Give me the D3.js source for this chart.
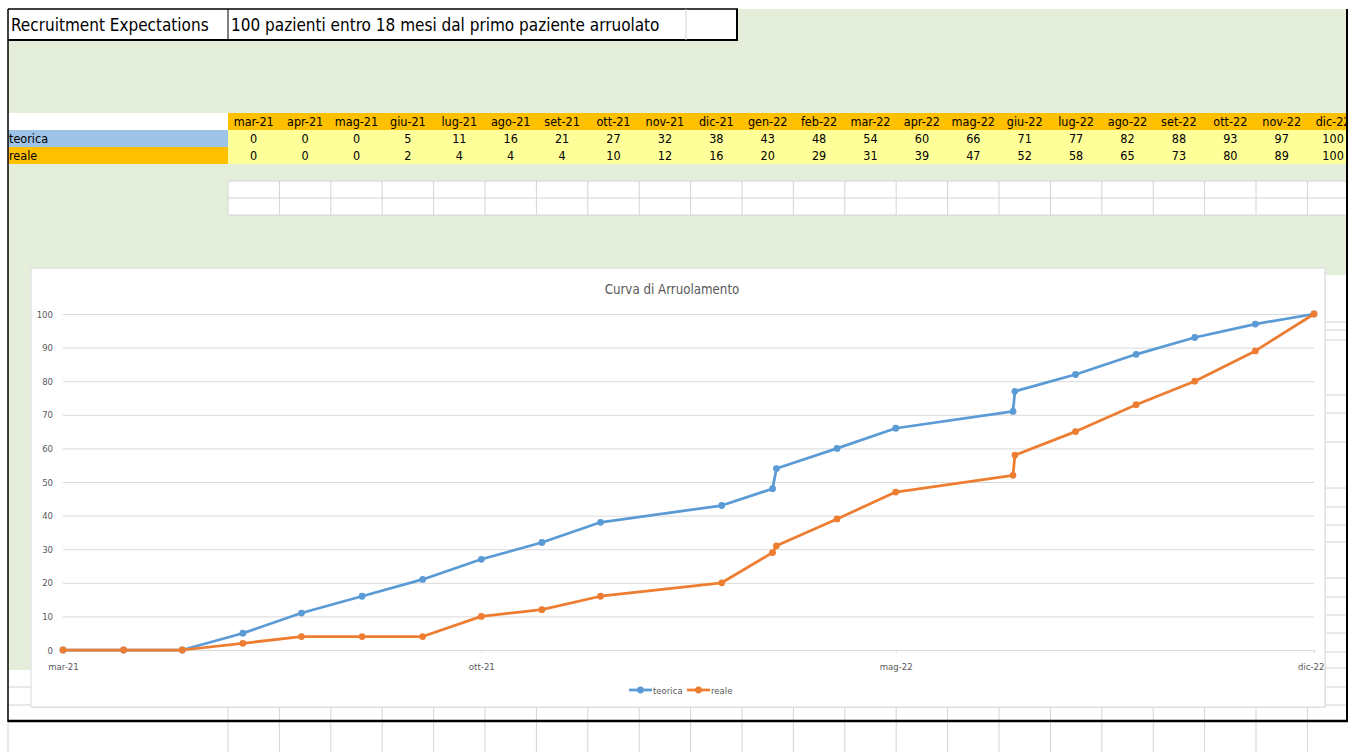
<!DOCTYPE html>
<html>
<head>
<meta charset="utf-8">
<script src="https://cdn.jsdelivr.net/npm/d3@7"></script>
<style>
  body { margin: 0; background: #fff; }
  svg { display: block; font-family: "Liberation Sans Narrow", "DejaVu Sans Condensed", "Open Sans", sans-serif; }
</style>
</head>
<body>
<div class="canvas"></div>
<script>
// data
const months = ['mar-21','apr-21','mag-21','giu-21','lug-21','ago-21','set-21','ott-21','nov-21','dic-21',
  'gen-22','feb-22','mar-22','apr-22','mag-22','giu-22','lug-22','ago-22','set-22','ott-22','nov-22','dic-22'];
// the chart uses the real cell dates (a few are not month starts)
const dates = ['2021-03-01','2021-04-01','2021-05-01','2021-06-01','2021-07-01','2021-08-01','2021-09-01',
  '2021-10-01','2021-11-01','2021-12-01','2022-02-01','2022-02-27','2022-03-01','2022-04-01','2022-05-01',
  '2022-06-30','2022-07-01','2022-08-01','2022-09-01','2022-10-01','2022-11-01','2022-12-01'];
const teorica = [0,0,0,5,11,16,21,27,32,38,43,48,54,60,66,71,77,82,88,93,97,100];
const reale   = [0,0,0,2,4,4,4,10,12,16,20,29,31,39,47,52,58,65,73,80,89,100];
const seriesNames = ['teorica', 'reale'];
const colors = { teorica: '#5b9bd5', reale: '#ed7d31' };

const W = 1357, H = 752;
const parse = d3.timeParse('%Y-%m-%d');
const monthFmt = d => months[d.getMonth() + (d.getFullYear() - 2021) * 12 - 2];

const svg = d3.select('.canvas').append('svg')
  .attr('width', W).attr('height', H);

// ---------- spreadsheet background ----------
const sheet = svg.append('g');
const colX = d3.scaleBand().domain(months).range([228, 228 + 22 * 51.4]);

// light cell grid under everything
const gridCol = '#d4d4d4';
colX.domain().forEach(m => {
  sheet.append('line').attr('x1', colX(m)).attr('x2', colX(m))
    .attr('y1', 700).attr('y2', H).attr('stroke', gridCol);
});
sheet.append('line').attr('x1', 8).attr('x2', 8).attr('y1', 700).attr('y2', H).attr('stroke', gridCol);

// green fill
sheet.append('rect').attr('x', 8).attr('y', 9).attr('width', 1339).attr('height', 661).attr('fill', '#e5eedb');
// white area right of the chart
sheet.append('rect').attr('x', 1320).attr('y', 275).attr('width', 27).attr('height', 447).attr('fill', '#fff');
[322,330,340,395,413,442,488,507,525,542,578,597,615,633,652,668,687,705].forEach(y => {
  sheet.append('line').attr('x1', 1320).attr('x2', 1347).attr('y1', y).attr('y2', y).attr('stroke', gridCol);
});
// white rows at bottom-left
sheet.append('rect').attr('x', 8).attr('y', 670).attr('width', 30).attr('height', 52).attr('fill', '#fff');
[687, 705].forEach(y => {
  sheet.append('line').attr('x1', 8).attr('x2', 40).attr('y1', y).attr('y2', y).attr('stroke', gridCol);
});

// empty white rows below the table
sheet.append('rect').attr('x', 228).attr('y', 181).attr('width', 1119).attr('height', 34).attr('fill', '#fff');
[181, 198, 215].forEach(y => {
  sheet.append('line').attr('x1', 228).attr('x2', 1347).attr('y1', y).attr('y2', y).attr('stroke', gridCol);
});
months.forEach(m => {
  sheet.append('line').attr('x1', colX(m)).attr('x2', colX(m)).attr('y1', 181).attr('y2', 215).attr('stroke', gridCol);
});

// header box
sheet.append('rect').attr('x', 8).attr('y', 0).attr('width', 730).attr('height', 40).attr('fill', '#fff');
sheet.append('rect').attr('x', 0).attr('y', 0).attr('width', W).attr('height', 9).attr('fill', '#fff');
sheet.append('line').attr('x1', 8).attr('x2', 738).attr('y1', 9).attr('y2', 9).attr('stroke', '#000').attr('stroke-width', 1.5);
sheet.append('line').attr('x1', 8).attr('x2', 738).attr('y1', 40).attr('y2', 40).attr('stroke', '#000').attr('stroke-width', 2);
sheet.append('line').attr('x1', 228).attr('x2', 228).attr('y1', 9).attr('y2', 40).attr('stroke', '#000');
sheet.append('line').attr('x1', 686).attr('x2', 686).attr('y1', 9).attr('y2', 40).attr('stroke', gridCol);
sheet.append('line').attr('x1', 737).attr('x2', 737).attr('y1', 9).attr('y2', 40).attr('stroke', '#000').attr('stroke-width', 2);
sheet.append('text').attr('x', 11).attr('y', 31).attr('font-size', 17).attr('fill', '#000')
  .text('Recruitment Expectations');
sheet.append('text').attr('x', 231).attr('y', 31).attr('font-size', 17).attr('fill', '#000')
  .text('100 pazienti entro 18 mesi dal primo paziente arruolato');

// data table
const rowY = { head: 113, teorica: 130, reale: 147 };
const rowH = 17;
sheet.append('rect').attr('x', 8).attr('y', rowY.head).attr('width', 220).attr('height', rowH).attr('fill', '#fff');
sheet.append('rect').attr('x', 228).attr('y', rowY.head).attr('width', 1119).attr('height', rowH).attr('fill', '#ffc000');
sheet.append('rect').attr('x', 228).attr('y', rowY.teorica).attr('width', 1119).attr('height', rowH * 2).attr('fill', '#ffff99');
sheet.append('rect').attr('x', 8).attr('y', rowY.teorica).attr('width', 220).attr('height', rowH).attr('fill', '#9dc3e6');
sheet.append('rect').attr('x', 8).attr('y', rowY.reale).attr('width', 220).attr('height', rowH).attr('fill', '#ffc000');
sheet.append('text').attr('x', 9).attr('y', rowY.teorica + 13).attr('font-size', 12.5).text('teorica');
sheet.append('text').attr('x', 9).attr('y', rowY.reale + 13).attr('font-size', 12.5).text('reale');

const table = sheet.append('g').attr('font-size', 12.5).attr('text-anchor', 'middle');
table.selectAll('text.h').data(months).join('text').attr('class', 'h')
  .attr('x', d => colX(d) + colX.bandwidth() / 2).attr('y', rowY.head + 13).text(d => d);
table.selectAll('text.t').data(teorica).join('text').attr('class', 't')
  .attr('x', (d, i) => colX(months[i]) + colX.bandwidth() / 2).attr('y', rowY.teorica + 13).text(d => d);
table.selectAll('text.r').data(reale).join('text').attr('class', 'r')
  .attr('x', (d, i) => colX(months[i]) + colX.bandwidth() / 2).attr('y', rowY.reale + 13).text(d => d);

// ---------- chart ----------
const box = { x: 31, y: 268, w: 1294, h: 439 };
svg.append('rect').attr('x', box.x + 1).attr('y', box.y + 1).attr('width', box.w).attr('height', box.h)
  .attr('fill', '#e8e8e8');
svg.append('rect').attr('x', box.x).attr('y', box.y).attr('width', box.w).attr('height', box.h)
  .attr('fill', '#fff').attr('stroke', '#d9d9d9');

const x = d3.scaleTime()
  .domain([parse(dates[0]), parse(dates[dates.length - 1])])
  .range([63, 1314]);
const y = d3.scaleLinear().domain([0, 100]).range([650, 314]);

const chart = svg.append('g');

// gridlines + y labels
const yAxis = chart.append('g').attr('transform', 'translate(63,0)')
  .call(d3.axisLeft(y).ticks(10).tickSize(-(1314 - 63)).tickPadding(10));
yAxis.select('.domain').remove();
yAxis.selectAll('line').attr('stroke', '#d9d9d9');
yAxis.selectAll('text').attr('fill', '#595959').attr('font-size', 9.5)
  .attr('font-family', '"Liberation Sans Narrow", "DejaVu Sans Condensed", sans-serif');

// x axis (date axis, major unit 7 months)
const xTicks = d3.timeMonth.range(parse(dates[0]), d3.timeDay.offset(parse(dates[dates.length - 1]), 1), 7);
const xAxis = chart.append('g').attr('transform', 'translate(0,650)')
  .call(d3.axisBottom(x).tickValues(xTicks).tickFormat(monthFmt).tickSize(3).tickPadding(10));
xAxis.select('.domain').attr('stroke', '#d9d9d9');
xAxis.selectAll('line').attr('stroke', '#d9d9d9');
xAxis.selectAll('text').attr('fill', '#595959').attr('font-size', 9.5)
  .attr('font-family', '"Liberation Sans Narrow", "DejaVu Sans Condensed", sans-serif');
xAxis.selectAll('.tick:last-of-type text').attr('text-anchor', 'end').attr('x', 10);

// title
chart.append('text').attr('x', 672).attr('y', 294).attr('text-anchor', 'middle')
  .attr('font-size', 13.2).attr('fill', '#595959').text('Curva di Arruolamento');

// lines
const seriesData = { teorica, reale };
const line = d3.line().x(d => x(d.date)).y(d => y(d.v));

seriesNames.forEach(name => {
  const pts = seriesData[name].map((v, i) => ({ date: parse(dates[i]), v }));
  chart.append('path').datum(pts)
    .attr('fill', 'none').attr('stroke', colors[name]).attr('stroke-width', 2.75)
    .attr('stroke-linejoin', 'round').attr('d', line);
  chart.selectAll(`circle.${name}`).data(pts).join('circle').attr('class', name)
    .attr('cx', d => x(d.date)).attr('cy', d => y(d.v)).attr('r', 3.4)
    .attr('fill', colors[name]);
});

// legend
const legend = chart.append('g').attr('font-size', 9.5).attr('fill', '#595959');
const legX = { teorica: 629, reale: 687 };
seriesNames.forEach(name => {
  const g = legend.append('g').attr('transform', `translate(${legX[name]},690)`);
  g.append('line').attr('x1', 0).attr('x2', 23).attr('stroke', colors[name]).attr('stroke-width', 2.75);
  g.append('circle').attr('cx', 11.5).attr('r', 3.4).attr('fill', colors[name]);
  g.append('text').attr('x', 24).attr('y', 3.5).text(name);
});

// outer black frame
svg.append('line').attr('x1', 8).attr('x2', 8).attr('y1', 9).attr('y2', 722).attr('stroke', '#000').attr('stroke-width', 1.5);
svg.append('line').attr('x1', 1347).attr('x2', 1347).attr('y1', 9).attr('y2', 722).attr('stroke', '#000').attr('stroke-width', 2);
svg.append('line').attr('x1', 8).attr('x2', 1348).attr('y1', 721).attr('y2', 721).attr('stroke', '#000').attr('stroke-width', 2.5);
svg.append('rect').attr('x', 1348).attr('y', 0).attr('width', W - 1348).attr('height', H).attr('fill', '#fff');
</script>
</body>
</html>
